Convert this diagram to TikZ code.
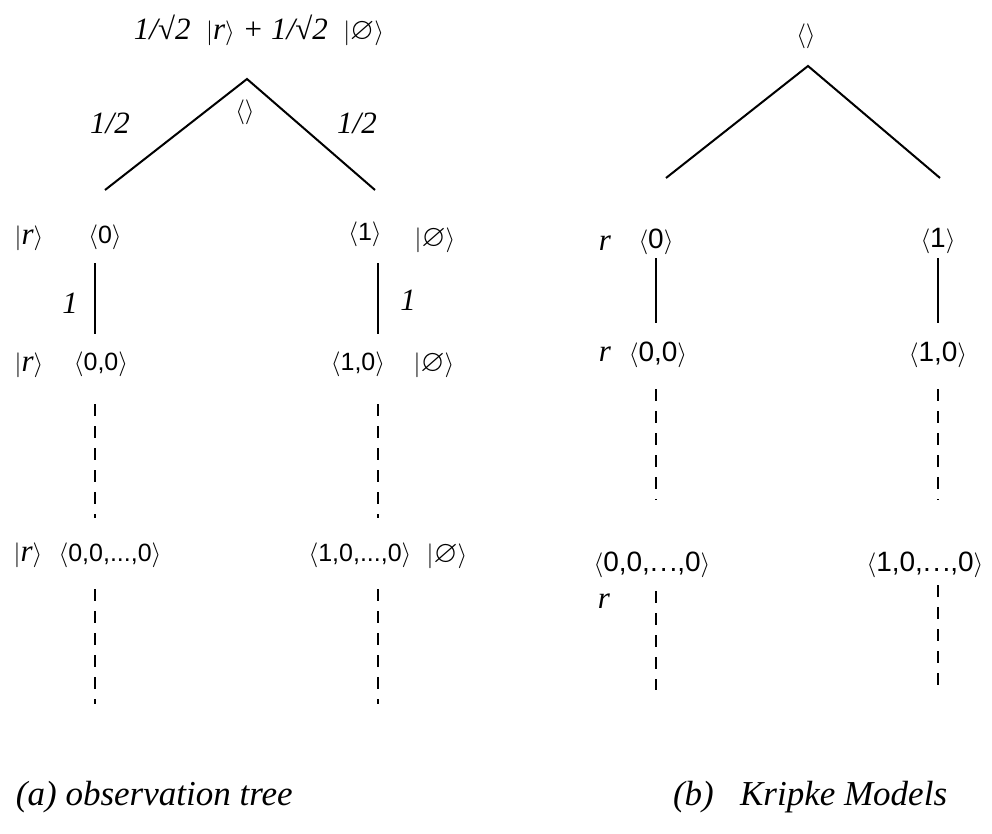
\documentclass[tikz,border=0pt]{standalone}
\usepackage{fontspec}
\usepackage{amssymb}
\setmainfont{Liberation Serif}
\setsansfont{Liberation Sans}
\begin{document}
\begin{tikzpicture}[x=1pt,y=-1pt,
  every node/.style={inner sep=0pt, outer sep=0pt},
  it/.style={font=\fontsize{31}{34}\selectfont\itshape},
  tup/.style={font=\fontsize{25}{28}\selectfont\sffamily},
  tupb/.style={font=\fontsize{28}{31}\selectfont\sffamily},
  tupl/.style={font=\fontsize{28}{31}\selectfont\sffamily},
  captext/.style={font=\fontsize{35}{38}\selectfont\itshape, anchor=west},
  edge/.style={line width=2pt},
  dline/.style={line width=2.4pt, dash pattern=on 12pt off 10pt}]
\useasboundingbox (0,0) rectangle (992,834);
\newcommand{\ket}[1]{$\bigl|$#1$\rangle$}
\newcommand{\tp}[1]{$\langle$#1$\rangle$}
\newcommand{\rt}{\textit{r}}
\newcommand{\longdots}{.\kern2pt.\kern2pt.}

% ---- (a) observation tree ----
\node[it] (amp) at (259,30) {1/√2\ \ \ket{\rt} + 1/√2\ \ \ket{$\varnothing$}};
\coordinate (aroot) at (247,79);
\node[tup] (aempty) at (245,112) {\tp{}};
\coordinate (al1) at (105,190);
\coordinate (ar1) at (375,190);
\node[it] (pl) at (110,123) {1/2};
\node[it] (pr) at (357,123) {1/2};
\draw[edge] (al1) -- (aroot) -- (ar1);

\node[it] (kl1) at (29,238) {\ket{\rt}};
\node[tup] (al1t) at (105,237) {\tp{0}};
\node[tup] (ar1t) at (365,234) {\tp{1}};
\node[it] (kr1) at (435,240) {\ket{$\varnothing$}};

\coordinate (al1a) at (95,263);
\coordinate (al1b) at (95,334);
\coordinate (ar1a) at (378,263);
\coordinate (ar1b) at (378,334);
\draw[edge] (al1a) -- (al1b);
\draw[edge] (ar1a) -- (ar1b);
\node[it] (ol) at (70,303) {1};
\node[it] (or) at (408,300) {1};

\node[it] (kl2) at (29,365) {\ket{\rt}};
\node[tup] (al2t) at (101,364) {\tp{0,0}};
\node[tup] (ar2t) at (358,364) {\tp{1,0}};
\node[it] (kr2) at (434,365) {\ket{$\varnothing$}};

\coordinate (al2a) at (95,404);
\coordinate (al2b) at (95,518);
\coordinate (ar2a) at (378,404);
\coordinate (ar2b) at (378,518);
\draw[dline] (al2a) -- (al2b);
\draw[dline] (ar2a) -- (ar2b);

\node[it] (kl3) at (28,555) {\ket{\rt}};
\node[tup] (al3t) at (110,555) {\tp{0,0,...,0}};
\node[tup] (ar3t) at (360,555) {\tp{1,0,...,0}};
\node[it] (kr3) at (447,556) {\ket{$\varnothing$}};

\coordinate (al3a) at (95,589);
\coordinate (al3b) at (95,704);
\coordinate (ar3a) at (378,589);
\coordinate (ar3b) at (378,704);
\draw[dline] (al3a) -- (al3b);
\draw[dline] (ar3a) -- (ar3b);

\node[captext] (capa) at (16,797) {(a) observation tree};

% ---- (b) Kripke models ----
\node[tupb] (bempty) at (806,36) {\tp{}};
\coordinate (broot) at (808,66);
\coordinate (bl1) at (666,178);
\coordinate (br1) at (940,178);
\draw[edge] (bl1) -- (broot) -- (br1);

\node[it] (rb1) at (605,243) {\rt};
\node[tupb] (bl1t) at (656,242) {\tp{0}};
\node[tupb] (br1t) at (938,241) {\tp{1}};

\coordinate (bl1a) at (656,258);
\coordinate (bl1b) at (656,323);
\coordinate (br1a) at (938,258);
\coordinate (br1b) at (938,323);
\draw[edge] (bl1a) -- (bl1b);
\draw[edge] (br1a) -- (br1b);

\node[it] (rb2) at (605,354) {\rt};
\node[tupb] (bl2t) at (658,355) {\tp{0,0}};
\node[tupb] (br2t) at (938,355) {\tp{1,0}};

\coordinate (bl2a) at (656,389);
\coordinate (bl2b) at (656,500);
\coordinate (br2a) at (938,389);
\coordinate (br2b) at (938,500);
\draw[dline] (bl2a) -- (bl2b);
\draw[dline] (br2a) -- (br2b);

\node[tupl] (bl3t) at (652,565) {\tp{0,0,\longdots,0}};
\node[tupl] (br3t) at (925,565) {\tp{1,0,\longdots,0}};
\node[it] (rb3) at (604,601) {\rt};

\coordinate (bl3a) at (656,591);
\coordinate (bl3b) at (656,690);
\coordinate (br3a) at (938,585);
\coordinate (br3b) at (938,690);
\draw[dline] (bl3a) -- (bl3b);
\draw[dline] (br3a) -- (br3b);

\node[captext] (capb) at (673,797) {(b)\ \ \ Kripke Models};
\end{tikzpicture}
\end{document}
